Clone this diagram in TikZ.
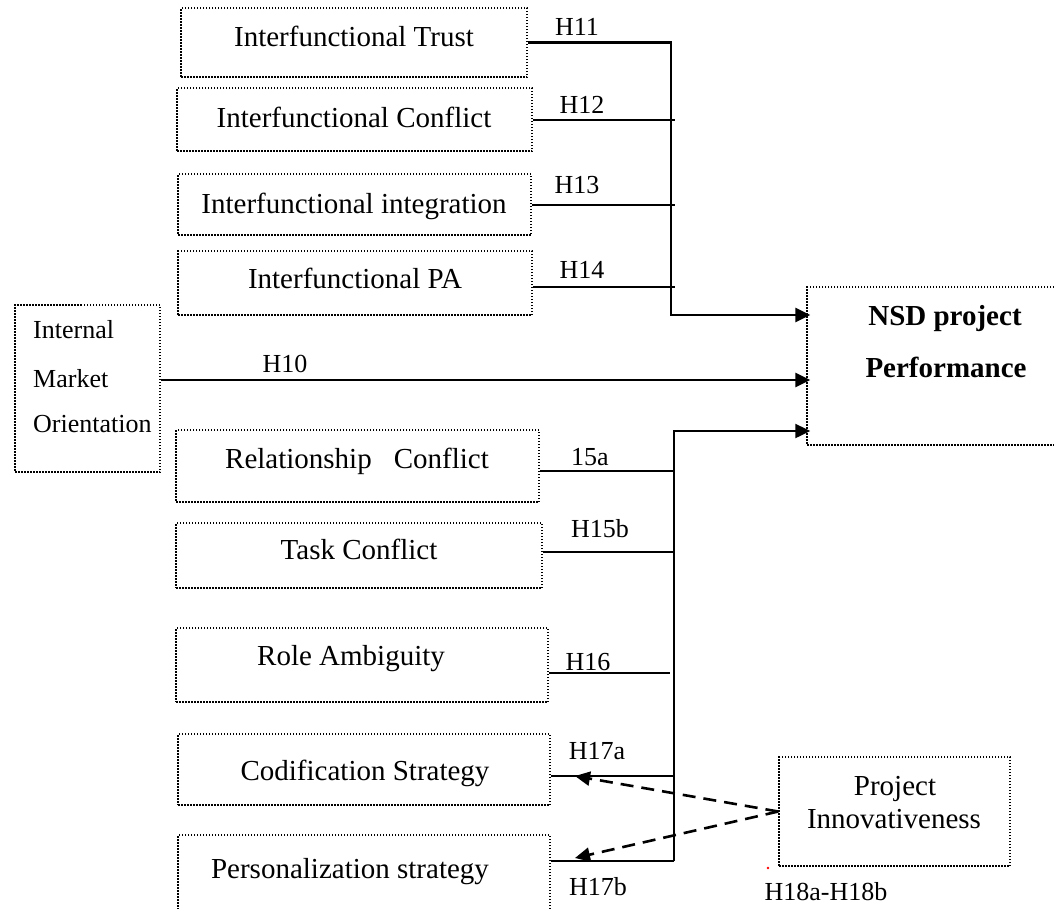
\documentclass[tikz,border=0pt]{standalone}
\usepackage{fontspec}
\setmainfont{Liberation Serif}
\usetikzlibrary{arrows.meta,fit,calc}
\begin{document}
\begin{tikzpicture}[x=1pt,y=-1pt,
  box/.style={draw, line width=1.5pt, dash pattern=on 1.5pt off 1.5pt, inner sep=0pt},
  boxtext/.style={anchor=base, inner sep=0pt, font=\fontsize{29}{35}\selectfont},
  boldtext/.style={anchor=base, inner sep=0pt, font=\fontsize{29}{35}\selectfont\bfseries},
  hyp/.style={anchor=base, inner sep=0pt, font=\fontsize{26}{31}\selectfont},
  heavy/.style={line width=2.8pt},
  light/.style={line width=2pt},
  bus/.style={line width=2.4pt},
  tip/.style={-{Triangle[length=15pt,width=14pt]}, shorten >=-4pt},
  moderates/.style={line width=2.6pt, dash pattern=on 13pt off 8pt,
    -{Triangle[length=15pt,width=14pt]}}
]
\useasboundingbox (0,0) rectangle (1054,908);

% ---- construct boxes ----
\node[box, fit={(181,8) (527,77)}]    (trust)    {};
\node[box, fit={(177,88) (532,151)}]  (conflict) {};
\node[box, fit={(178,174) (531,235)}] (integ)    {};
\node[box, fit={(178,251) (532,315)}] (pa)       {};
\node[box, fit={(15,305) (160,472)}]  (imo)      {};
\node[box, fit={(807,287) (1075,445)}] (nsd)     {};
\node[box, fit={(176,430) (539,502)}] (relc)     {};
\node[box, fit={(176,523) (542,588)}] (task)     {};
\node[box, fit={(176,628) (548,702)}] (role)     {};
\node[box, fit={(178,734) (550,805)}] (codif)    {};
\node[box, fit={(178,835) (550,930)}] (person)   {};
\node[box, fit={(779,757) (1010,866)}] (innov)   {};

% ---- box texts ----
\node[boxtext] (trustT)    at (354,46)  {Interfunctional Trust};
\node[boxtext] (conflictT) at (354,127) {Interfunctional Conflict};
\node[boxtext] (integT)    at (354,213) {Interfunctional integration};
\node[boxtext] (paT)       at (355,288) {Interfunctional PA};
\node[hyp, anchor=base west] (imoA) at (33,338) {Internal};
\node[hyp, anchor=base west] (imoB) at (33,387) {Market};
\node[hyp, anchor=base west] (imoC) at (33,432) {Orientation};
\node[boldtext] (nsdA) at (945,325) {NSD project};
\node[boldtext] (nsdB) at (946,377) {Performance};
\node[boxtext] (relcT)   at (357,468) {Relationship\hspace{22pt}Conflict};
\node[boxtext] (taskT)   at (359,559) {Task Conflict};
\node[boxtext] (roleT)   at (351,665) {Role Ambiguity};
\node[boxtext] (codifT)  at (365,780) {Codification Strategy};
\node[boxtext] (personT) at (350,878) {Personalization strategy};
\node[boxtext] (innovA)  at (895,795) {Project};
\node[boxtext] (innovB)  at (894,828) {Innovativeness};

% ---- hypothesis labels ----
\node[hyp] (lH11) at (577,35)  {H11};
\node[hyp] (lH12) at (582,113) {H12};
\node[hyp] (lH13) at (577,193) {H13};
\node[hyp] (lH14) at (582,278) {H14};
\node[hyp] (lH10) at (285,372) {H10};
\node[hyp] (l15a) at (590,465) {15a};
\node[hyp] (lH15b) at (600,537) {H15b};
\node[hyp] (lH16) at (588,670) {H16};
\node[hyp] (lH17a) at (597,759) {H17a};
\node[hyp] (lH17b) at (598,895) {H17b};
\node[hyp] (lH18) at (826,900) {H18a-H18b};
\node[circle, fill=red, inner sep=0pt, minimum size=2.6pt] (dot) at (768,868) {};

% ---- bus positions and connector start points ----
\coordinate (upEnd) at (671,315);
\coordinate (upTap) at (675,0);
\coordinate (h10)   at (0,380);
\coordinate (loTop) at (674,431);
\coordinate (loEnd) at (674,861);
\coordinate (roleTap) at (670,0);
\coordinate (t17a)  at (575,776);
\coordinate (t17b)  at (575,858);
\coordinate (s14)  at ($(pa.east)+(0,4)$);
\coordinate (s15a) at ($(relc.east)+(0,5)$);
\coordinate (s15b) at ($(task.east)+(0,-3.5)$);
\coordinate (s16)  at ($(role.east)+(0,8)$);
\coordinate (s17a) at ($(codif.east)+(0,6.5)$);

% ---- upper group ----
\draw[heavy, tip, line join=miter] (trust.east) -| (upEnd) -- (nsd.west |- upEnd);
\draw[light] (conflict.east) -- (conflict.east -| upTap);
\draw[light] (integ.east) -- (integ.east -| upTap);
\draw[light] (s14) -- (s14 -| upTap);

% ---- direct path ----
\draw[heavy, tip] (imo.east |- h10) -- (nsd.west |- h10);

% ---- lower group ----
\draw[bus, tip, line join=miter] (loEnd) -- (loTop) -- (nsd.west |- loTop);
\draw[light] (s15a) -- (s15a -| loTop);
\draw[heavy] (s15b) -- (s15b -| upTap);
\draw[light] (s16) -- (s16 -| roleTap);
\draw[light] (s17a) -- (s17a -| loTop);
\draw[light] (loEnd) -- (person.east |- loEnd);

% ---- moderating effects ----
\draw[moderates] (innov.west) -- (t17a);
\draw[moderates] (innov.west) -- (t17b);
\end{tikzpicture}
\end{document}
